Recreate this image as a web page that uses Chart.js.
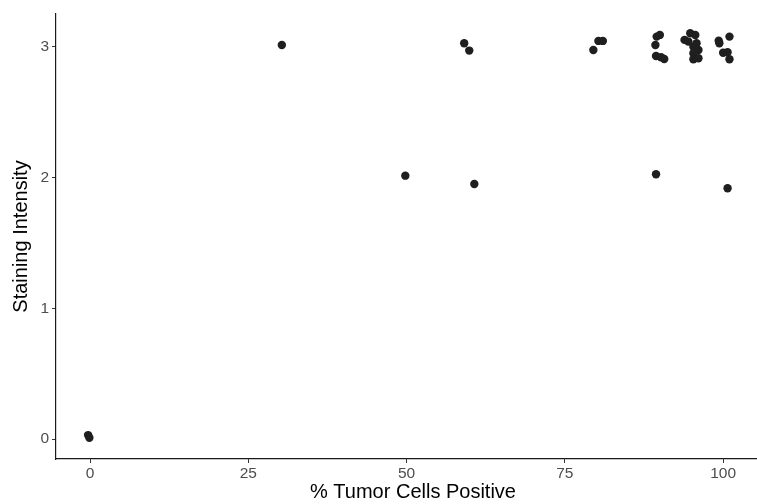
<!DOCTYPE html>
<html>
<head>
<meta charset="utf-8">
<script src="https://cdn.jsdelivr.net/npm/chart.js@4"></script>
<style>
    html, body { margin: 0; padding: 0; background: #fff; overflow: hidden; }
    canvas { display: block; }
</style>
</head>
<body>
<canvas id="chart" width="770" height="504"></canvas>
<script>
// % tumor cells positive (x) and staining intensity (y), jittered as in the original
const pctPositive = [
    -0.3, -0.1,
    30.3,
    49.8,
    59.1, 59.9, 60.7,
    79.5, 80.3, 81.0,
    89.4,
    89.5, 90.0, 89.3, 89.4, 90.2, 90.7,
    94.8, 95.6, 93.9, 94.5, 95.8, 95.3, 96.1, 95.3, 95.3, 96.1,
    99.3, 99.4, 101.0, 100.0, 100.7, 101.0,
    100.7
];
const intensity = [
    0.03, 0.01,
    3.015,
    2.015,
    3.028, 2.972, 1.951,
    2.977, 3.046, 3.046,
    2.026,
    3.079, 3.092, 3.015, 2.931, 2.921, 2.908,
    3.105, 3.092, 3.054, 3.041, 3.028, 3.002, 2.977, 2.952, 2.906, 2.913,
    3.048, 3.028, 3.079, 2.956, 2.959, 2.906,
    1.919
];
const xTicks = [0, 25, 50, 75, 100];
const yTicks = [0, 1, 2, 3];

const points = pctPositive.map((x, i) => ({ x: x, y: intensity[i] }));

const fontFamily = '"Liberation Sans", Arial, Helvetica, sans-serif';
const tickFont = { family: fontFamily, size: 15.5 };
const titleFont = { family: fontFamily, size: 20 };

// the plot panel runs a little past the right edge of the picture, as in the original
new Chart(document.getElementById('chart'), {
    type: 'scatter',
    data: {
        datasets: [{
            data: points,
            backgroundColor: '#1f1f1f',
            borderWidth: 0,
            pointRadius: 4.2,
            pointHoverRadius: 4.2
        }]
    },
    options: {
        responsive: false,
        animation: false,
        layout: { autoPadding: false, padding: { top: 14, right: 0, left: 0, bottom: 0 } },
        plugins: { legend: { display: false }, tooltip: { enabled: false } },
        scales: {
            x: {
                type: 'linear',
                min: -5.37,
                max: 107.4,
                afterFit: (s) => { s.height = 45; },
                afterBuildTicks: (s) => { s.ticks = xTicks.map(v => ({ value: v })); },
                ticks: { font: tickFont, color: '#4d4d4d', padding: 1, maxRotation: 0 },
                grid: { drawOnChartArea: false, drawTicks: true, tickLength: 4, tickColor: '#333', tickWidth: 1 },
                border: { display: true, color: '#1a1a1a', width: 1.2 },
                title: { display: true, text: '% Tumor Cells Positive', font: titleFont, color: '#000', padding: { top: 0, bottom: 0 } }
            },
            y: {
                type: 'linear',
                min: -0.153,
                max: 3.252,
                afterFit: (s) => { s.width = 56; },
                afterBuildTicks: (s) => { s.ticks = yTicks.map(v => ({ value: v })); },
                ticks: { font: tickFont, color: '#4d4d4d', padding: 3 },
                grid: { drawOnChartArea: false, drawTicks: true, tickLength: 4, tickColor: '#333', tickWidth: 1 },
                border: { display: true, color: '#1a1a1a', width: 1.2 },
                title: { display: true, text: 'Staining Intensity', font: titleFont, color: '#000', padding: { top: 9, bottom: 0 } }
            }
        }
    }
});
</script>
</body>
</html>
